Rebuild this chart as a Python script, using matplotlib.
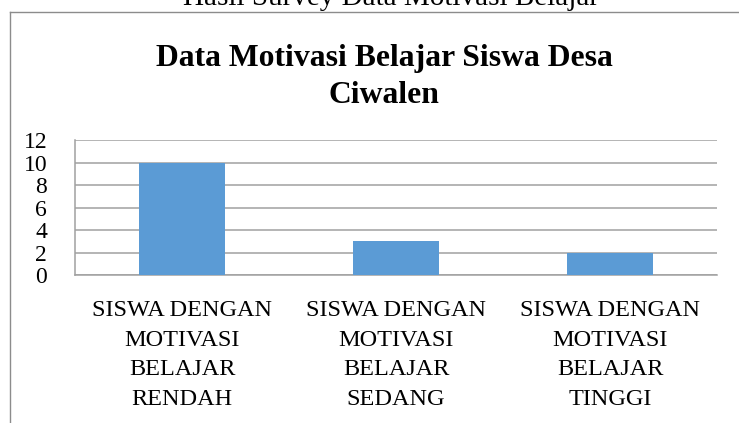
import matplotlib
matplotlib.use("Agg")
import matplotlib.pyplot as plt
from matplotlib.lines import Line2D

categories = ["SISWA DENGAN\nMOTIVASI\nBELAJAR\nRENDAH",
              "SISWA DENGAN\nMOTIVASI\nBELAJAR\nSEDANG",
              "SISWA DENGAN\nMOTIVASI\nBELAJAR\nTINGGI"]
values = [10, 3, 2]
yticks = [0, 2, 4, 6, 8, 10, 12]

W, H = 739, 423
plt.rcParams['font.family'] = ['Liberation Serif', 'DejaVu Serif']
fig = plt.figure(figsize=(W / 100, H / 100), dpi=100)

# outer frame (top and left visible)
fig.add_artist(Line2D([9.5 / W, 1.0], [1 - 12.5 / H, 1 - 12.5 / H],
                      transform=fig.transFigure, color='#8c8c8c', lw=1.0))
fig.add_artist(Line2D([9.5 / W, 9.5 / W], [1 - 12.5 / H, 0.0],
                      transform=fig.transFigure, color='#8c8c8c', lw=1.0))

fig.text(391 / W, 1 - 5 / H, "Hasil Survey Data Motivasi Belajar",
         ha='center', va='baseline', fontsize=21)
fig.text(384 / W, 1 - 77 / H, "Data Motivasi Belajar Siswa Desa\nCiwalen",
         ha='center', va='center', fontsize=22.8, fontweight='bold', linespacing=1.38)

ax = fig.add_axes([75 / W, 1 - 275 / H, (717 - 75) / W, (275 - 140) / H])
x = list(range(len(categories)))
ax.bar(x, values, width=0.40, color='#5b9bd5', zorder=3)
ax.set_xlim(-0.5, len(categories) - 0.5)
ax.set_ylim(0, 12)
ax.set_yticks(yticks)
ax.set_yticklabels([str(v) for v in yticks], fontsize=17)
ax.set_xticks(x)
ax.set_xticklabels(categories, fontsize=17.5, linespacing=1.54)
ax.tick_params(axis='y', length=0, pad=20)
ax.tick_params(axis='x', length=0, pad=18)
ax.grid(axis='y', color='#a0a0a0', lw=1.1, zorder=0)
for s in ['top', 'right']:
    ax.spines[s].set_visible(False)
ax.spines['left'].set_color('#a0a0a0')
ax.spines['left'].set_linewidth(1.1)
ax.spines['bottom'].set_color('#a0a0a0')
ax.spines['bottom'].set_linewidth(1.1)

fig.savefig("out.png", dpi=100)
